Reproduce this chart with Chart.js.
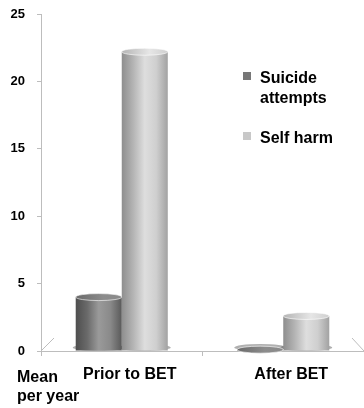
<!DOCTYPE html>
<html><head><meta charset="utf-8">
<script src="https://cdn.jsdelivr.net/npm/chart.js@4/dist/chart.umd.min.js"></script>
<style>
html,body{margin:0;padding:0;background:#fff;}
#wrap{position:relative;width:364px;height:408px;overflow:hidden;}
canvas{position:absolute;left:0;top:0;}
.t{position:absolute;font:bold 16px "Liberation Sans",Arial,sans-serif;color:#000;line-height:20px;}
.sw{position:absolute;width:8px;height:8px;}
</style></head><body>
<div id="wrap"><canvas id="c" width="364" height="408"></canvas>
<div id="legend"></div>
<div class="t" id="ylab" style="left:17px;top:367px;line-height:19px;white-space:nowrap">Mean<br>per year</div>
</div>
<script>
const categories = ['Prior to BET', 'After BET'];
const seriesNames = ['Suicide attempts', 'Self harm'];
const suicideAttempts = [4.0, 0.1];
const selfHarm = [22.2, 2.6];
const yTicks = [0, 5, 10, 15, 20, 25];

const palette = [
  {solid:'#7a7a7a', stops:['#4e4e4e','#6a6a6a','#9a9a9a','#8a8a8a','#5a5a5a'], top:'#8c8c8c'},
  {solid:'#c4c4c4', stops:['#8e8e8e','#b4b4b4','#dedede','#cfcfcf','#a2a2a2'], top:'#e6e6e6'}
];

// legend (HTML text)
const lg = document.getElementById('legend');
const legendTops = [68, 128];
seriesNames.forEach((n,i)=>{
  const sw = document.createElement('div');
  sw.className='sw'; sw.style.left='243px'; sw.style.top=(legendTops[i]+4)+'px';
  sw.style.background = i===0 ? '#777777' : '#c8c8c8';
  lg.appendChild(sw);
  const t = document.createElement('div');
  t.className='t'; t.style.left='260px'; t.style.top=legendTops[i]+'px'; t.style.width='80px';
  t.textContent = n;
  lg.appendChild(t);
});

const cylinder = {
  id:'cylinder',
  beforeDatasetsDraw(chart){
    const ctx = chart.ctx;
    const ca = chart.chartArea;
    // floor lines
    ctx.save();
    ctx.strokeStyle = '#bdbdbd'; ctx.lineWidth = 1;
    ctx.beginPath(); ctx.moveTo(ca.left, ca.bottom); ctx.lineTo(ca.left+13, ca.bottom-13); ctx.stroke();
    ctx.beginPath(); ctx.moveTo(ca.right-12, ca.bottom-13); ctx.lineTo(ca.right, ca.bottom); ctx.stroke();
    ctx.restore();
    chart.data.datasets.forEach((ds, di)=>{
      const meta = chart.getDatasetMeta(di);
      meta.data.forEach(el=>{
        const l = el.x - el.width/2, r = el.x + el.width/2;
        const g = ctx.createLinearGradient(l,0,r,0);
        const st = palette[di].stops;
        st.forEach((c,k)=>g.addColorStop(k/(st.length-1), c));
        el.options.backgroundColor = g;
        // base shadow
        ctx.save();
        ctx.fillStyle = 'rgba(80,80,80,0.45)';
        ctx.beginPath(); ctx.ellipse(el.x, el.base-3, el.width/2+3, 3.5, 0, 0, Math.PI*2); ctx.fill();
        ctx.restore();
      });
    });
  },
  afterDatasetsDraw(chart){
    const ctx = chart.ctx;
    chart.data.datasets.forEach((ds, di)=>{
      const meta = chart.getDatasetMeta(di);
      meta.data.forEach(el=>{
        ctx.save();
        const g = ctx.createLinearGradient(el.x-el.width/2,0,el.x+el.width/2,0);
        g.addColorStop(0, palette[di].stops[1]);
        g.addColorStop(0.6, palette[di].top);
        g.addColorStop(1, palette[di].stops[3]);
        ctx.fillStyle = g;
        ctx.strokeStyle = 'rgba(255,255,255,0.6)';
        ctx.beginPath(); ctx.ellipse(el.x, el.y, el.width/2, 3.5, 0, 0, Math.PI*2); ctx.fill(); ctx.stroke();
        ctx.restore();
      });
    });
  }
};

new Chart(document.getElementById('c'), {
  type:'bar',
  data:{
    labels: categories,
    datasets:[
      {label:seriesNames[0], data:suicideAttempts, backgroundColor:()=>palette[0].solid, borderWidth:0, barPercentage:1, categoryPercentage:0.57},
      {label:seriesNames[1], data:selfHarm, backgroundColor:()=>palette[1].solid, borderWidth:0, barPercentage:1, categoryPercentage:0.57}
    ]
  },
  options:{
    responsive:false, animation:false,
    layout:{padding:{top:14, right:0, left:0, bottom:0}},
    plugins:{legend:{display:false}, tooltip:{enabled:false}},
    scales:{
      x:{
        afterFit(s){ s.height = 57; s.paddingLeft = 0; s.paddingRight = 0; },
        grid:{drawOnChartArea:false, tickLength:5, color:'#bdbdbd'},
        border:{color:'#bdbdbd'},
        ticks:{color:'#000', padding:9, labelOffset:8, font:{family:'"Liberation Sans", Arial, sans-serif', size:16, weight:'bold'}}
      },
      y:{
        min:0, max:25,
        afterFit(s){ s.width = 41; s.paddingTop = 0; s.paddingBottom = 0; },
        afterBuildTicks(s){ s.ticks = yTicks.map(v=>({value:v})); },
        grid:{drawOnChartArea:false, tickLength:4, color:'#bdbdbd'},
        border:{color:'#bdbdbd'},
        ticks:{color:'#000', padding:12, font:{family:'"Liberation Sans", Arial, sans-serif', size:13, weight:'bold'}}
      }
    }
  },
  plugins:[cylinder]
});
</script>
</body></html>
